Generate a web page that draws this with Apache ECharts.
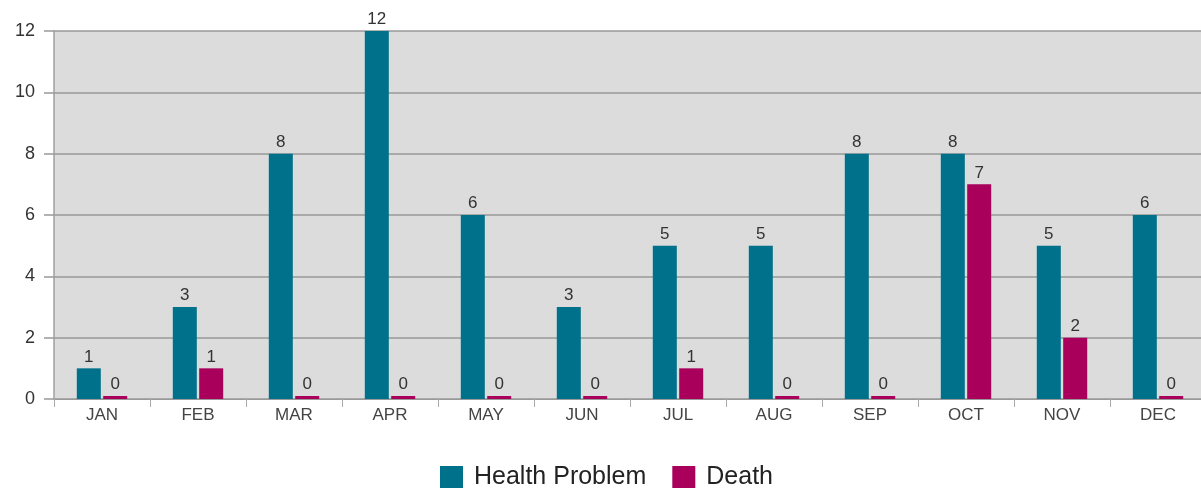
<!DOCTYPE html>
<html><head><meta charset="utf-8">
<script src="https://cdn.jsdelivr.net/npm/echarts@6/dist/echarts.min.js"></script>
<style>html,body{margin:0;padding:0;background:#fff;overflow:hidden}#c{width:1206px;height:488px}</style>
</head><body><div id="c"></div>
<script>
const months = ['JAN','FEB','MAR','APR','MAY','JUN','JUL','AUG','SEP','OCT','NOV','DEC'];
const healthProblem = [1,3,8,12,6,3,5,5,8,8,5,6];
const death = [0,1,0,0,0,0,1,0,0,7,2,0];
const yTicks = [0,2,4,6,8,10,12];

const chart = echarts.init(document.getElementById('c'));
const lbl = {show:true, position:'top', color:'#333', fontSize:17, fontFamily:'Liberation Sans, Arial', distance:3};
chart.setOption({
  animation:false,
  textStyle:{fontFamily:'Liberation Sans, Arial'},
  grid:{left:54, right:0, top:31, height:368, containLabel:false, show:true, backgroundColor:'#dcdcdc', borderWidth:0},
  legend:{top:465, left:440, padding:0, itemWidth:23, itemHeight:23, itemGap:26, icon:'rect',
    textStyle:{fontSize:25, color:'#222', fontFamily:'Liberation Sans, Arial', padding:[0,0,0,6]},
    data:['Health Problem','Death']},
  xAxis:{type:'category', data:months,
    axisLine:{lineStyle:{color:'#999', width:1}},
    axisTick:{show:true, length:8, lineStyle:{color:'#aaa'}},
    axisLabel:{color:'#444', fontSize:17, margin:8}},
  yAxis:{type:'value', min:yTicks[0], max:yTicks[yTicks.length-1], interval:2,
    axisLine:{show:true, lineStyle:{color:'#a0a0a0', width:1.5}},
    axisTick:{show:true, length:10, lineStyle:{color:'#999', width:1.5}},
    splitLine:{lineStyle:{color:'#999', width:1.5}},
    axisLabel:{color:'#333', fontSize:18, margin:19}},
  series:[
    {name:'Health Problem', type:'bar', data:healthProblem, barWidth:24, barGap:'10%', barMinHeight:3,
      itemStyle:{color:'#00718b'}, label:lbl},
    {name:'Death', type:'bar', data:death, barWidth:24, barGap:'10%', barMinHeight:3,
      itemStyle:{color:'#a8005b'}, label:lbl}
  ]
});
</script></body></html>
